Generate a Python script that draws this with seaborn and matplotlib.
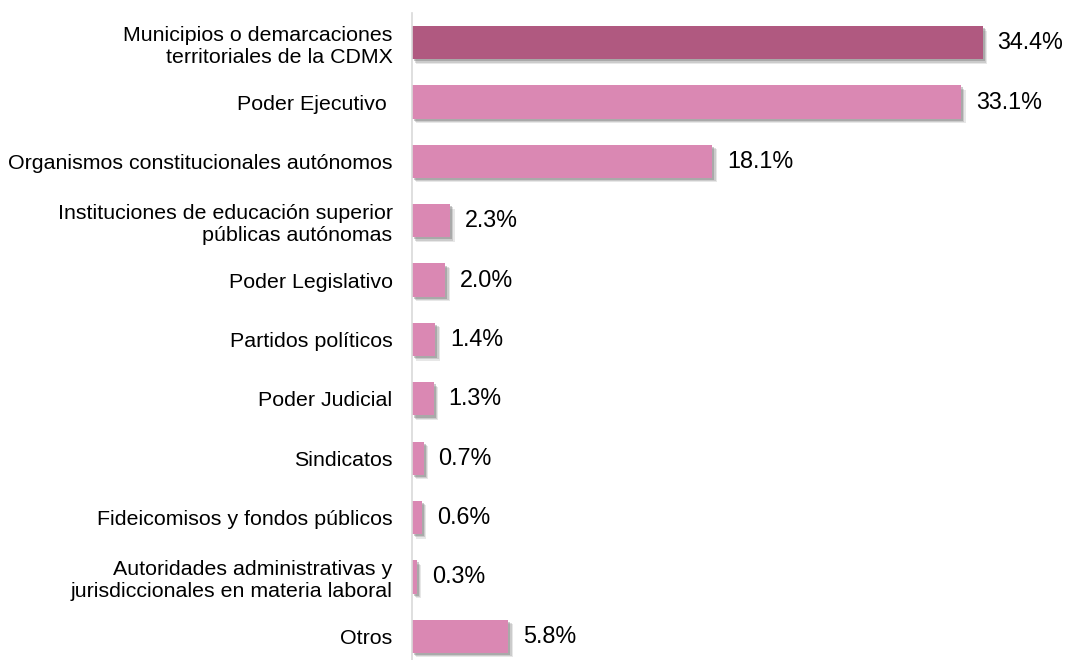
import matplotlib
matplotlib.use("Agg")
import matplotlib.pyplot as plt
import matplotlib.patheffects as pe
import seaborn as sns
import pandas as pd

categories = [
    "Municipios o demarcaciones\nterritoriales de la CDMX",
    "Poder Ejecutivo ",
    "Organismos constitucionales autónomos",
    "Instituciones de educación superior\npúblicas autónomas",
    "Poder Legislativo",
    "Partidos políticos",
    "Poder Judicial",
    "Sindicatos",
    "Fideicomisos y fondos públicos",
    "Autoridades administrativas y\njurisdiccionales en materia laboral",
    "Otros",
]
values = [34.4, 33.1, 18.1, 2.3, 2.0, 1.4, 1.3, 0.7, 0.6, 0.3, 5.8]
labels = ["34.4%", "33.1%", "18.1%", "2.3%", "2.0%", "1.4%", "1.3%", "0.7%", "0.6%", "0.3%", "5.8%"]

dark = "#B05980"
light = "#DA88B3"
palette = [dark] + [light] * (len(categories) - 1)

df = pd.DataFrame({"cat": categories, "val": values})

sns.set_theme(style="white")
plt.rcParams["font.family"] = ["Liberation Sans", "DejaVu Sans"]

W, H = 1068, 660
fig = plt.figure(figsize=(W / 100, H / 100), dpi=100)
ax = fig.add_axes([412 / W, 0.0, (1059 - 412) / W, (660 - 13) / H])

sns.barplot(data=df, y="cat", x="val", hue="cat", palette=palette, legend=False,
            orient="h", width=0.56, ax=ax, saturation=1, linewidth=0, edgecolor="none")

for p in ax.patches:
    p.set_path_effects([
        pe.SimplePatchShadow(offset=(3.2, -3.2), shadow_rgbFace="#7a7a7a", alpha=0.18),
        pe.SimplePatchShadow(offset=(2.4, -2.4), shadow_rgbFace="#7a7a7a", alpha=0.25),
        pe.SimplePatchShadow(offset=(1.5, -1.5), shadow_rgbFace="#6a6a6a", alpha=0.35),
        pe.Normal(),
    ])

for i, (v, lab) in enumerate(zip(values, labels)):
    ax.text(v + 0.9, i, lab, va="center", ha="left", fontsize=16.8, color="#000000")

ax.set_xlim(0, 39)
ax.set_ylim(10.4, -0.5)
ax.set_xlabel("")
ax.set_ylabel("")
ax.set_xticks([])
ax.tick_params(axis="y", length=0, pad=14, labelsize=15.4, labelcolor="#000000")
for t in ax.get_yticklabels():
    t.set_linespacing(1.2)
for s in ["top", "right", "bottom"]:
    ax.spines[s].set_visible(False)
ax.spines["left"].set_color("#D9D9D9")
ax.spines["left"].set_linewidth(1.2)

fig.savefig("out.png", dpi=100)
